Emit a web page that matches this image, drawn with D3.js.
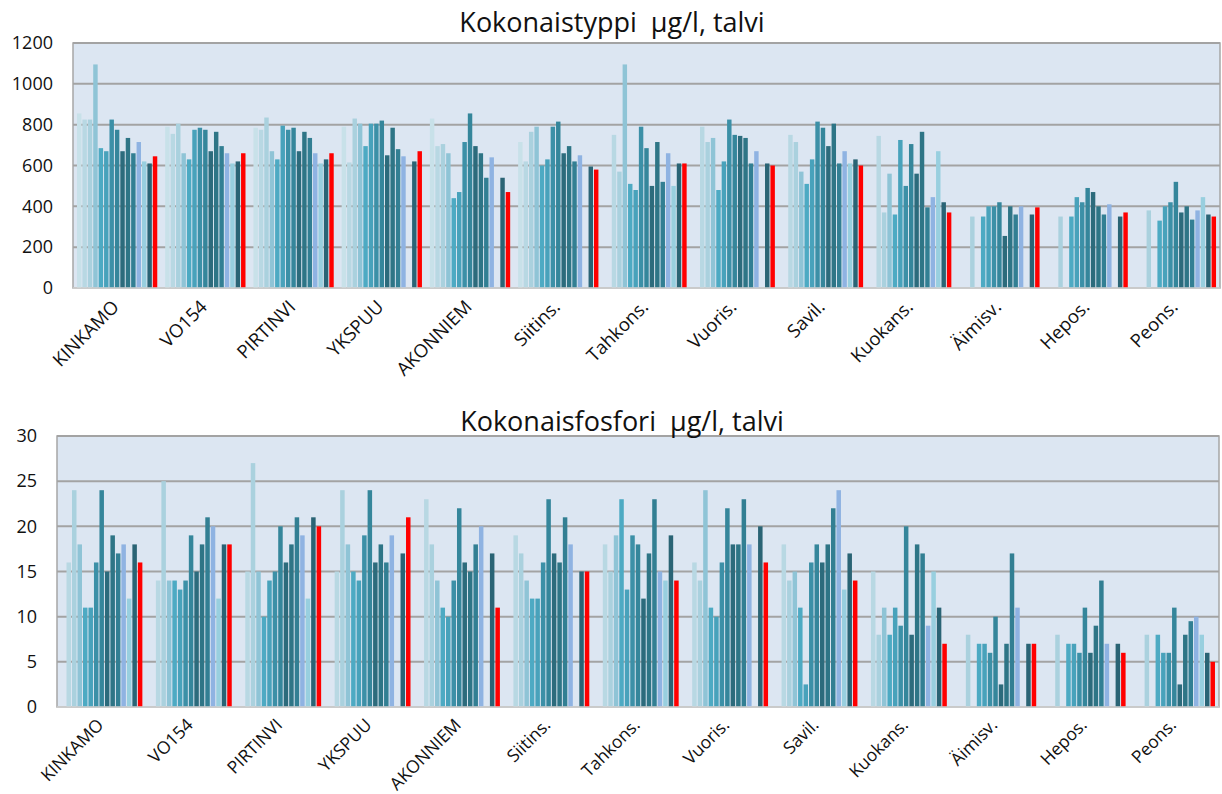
<!DOCTYPE html>
<html>
<head>
<meta charset="utf-8">
<script src="https://cdn.jsdelivr.net/npm/d3@7"></script>
<style>
  body { margin: 0; background: #fff; }
  text { font-family: "Open Sans", sans-serif; fill: #111; }
</style>
</head>
<body>
<div id="chart-container"></div>
<script>
const categories = ['KINKAMO', 'VO154', 'PIRTINVI', 'YKSPUU', 'AKONNIEM', 'Siitins.', 'Tahkons.',
  'Vuoris.', 'Savil.', 'Kuokans.', 'Äimisv.', 'Hepos.', 'Peons.'];

// 15 series per site (oldest -> newest, last one red)
const seriesColors = ['#c8e1e9', '#b8d8e3', '#aad1de', '#8fc4d6', '#4daac3', '#48a2bb', '#3c90a7',
  '#35869b', '#2c6b7c', '#2e7586', '#327f93', '#8fb3e2', '#98cfdf', '#2a6475', '#ff0000'];

// Kokonaistyppi, one row per site
const typpi = [
  [855, 825, 825, 1095, 685, 670, 825, 775, 670, 735, 660, 715, 620, 610, 645],
  [790, 755, 805, 660, 630, 775, 785, 775, 670, 765, 695, 660, 610, 620, 660],
  [785, 775, 835, 670, 630, 795, 775, 785, 670, 765, 735, 660, 610, 630, 660],
  [790, 615, 830, 805, 695, 805, 805, 820, 650, 785, 680, 645, null, 620, 670],
  [830, 695, 705, 660, 440, 470, 715, 855, 695, 660, 540, 640, null, 540, 470],
  [715, 620, 765, 790, 600, 630, 790, 815, 660, 695, 620, 650, null, 595, 580],
  [null, 750, 570, 1095, 510, 480, 790, 685, 500, 715, 520, 660, 500, 610, 610],
  [null, 790, 715, 735, 480, 620, 825, 750, 745, 735, 610, 670, null, 610, 600],
  [null, 750, 715, 570, 510, 630, 815, 785, 695, 805, 610, 670, 610, 630, 600],
  [null, 745, 370, 560, 360, 725, 500, 705, 560, 765, 395, 445, 670, 420, 370],
  [null, null, 350, null, 350, 400, 400, 420, 255, 400, 360, 400, null, 360, 395],
  [null, null, 350, null, 350, 445, 420, 490, 470, 400, 360, 410, null, 350, 370],
  [null, null, 380, null, 330, 400, 420, 520, 370, 400, 335, 380, 445, 360, 350]
];

// Kokonaisfosfori, one row per site
const fosfori = [
  [null, 16, 24, 18, 11, 11, 16, 24, 15, 19, 17, 18, 12, 18, 16],
  [null, 14, 25, 14, 14, 13, 14, 19, 15, 18, 21, 20, 12, 18, 18],
  [null, 15, 27, 15, 10, 14, 15, 20, 16, 18, 21, 19, 12, 21, 20],
  [null, 15, 24, 18, 15, 14, 19, 24, 16, 18, 16, 19, null, 17, 21],
  [null, 23, 18, 14, 11, 10, 14, 22, 16, 15, 18, 20, null, 17, 11],
  [null, 19, 17, 14, 12, 12, 16, 23, 17, 16, 21, 18, null, 15, 15],
  [null, 18, 15, 19, 23, 13, 19, 18, 12, 17, 23, 15, 14, 19, 14],
  [null, 16, 14, 24, 11, 10, 16, 22, 18, 18, 23, 18, null, 20, 16],
  [null, 18, 14, 15, 11, 2.5, 16, 18, 16, 18, 22, 24, 13, 17, 14],
  [null, 15, 8, 11, 8, 11, 9, 20, 8, 18, 17, 9, 15, 11, 7],
  [null, null, 8, null, 7, 7, 6, 10, 2.5, 7, 17, 11, null, 7, 7],
  [null, null, 8, null, 7, 7, 6, 11, 6, 9, 14, 7, null, 7, 6],
  [null, null, 8, null, 8, 6, 6, 11, 2.5, 8, 9.5, 10, 8, 6, 5]
];

const typpiTicks = [0, 200, 400, 600, 800, 1000, 1200];
const fosforiTicks = [0, 5, 10, 15, 20, 25, 30];

const width = 1222;
const height = 794;

const svg = d3.select('#chart-container')
  .append('svg')
  .attr('width', width)
  .attr('height', height)
  .style('background-color', 'white');

function drawPanel(opts) {
  const { box, data, ticks, title, titleX, titleY } = opts;

  const x0 = d3.scaleBand()
    .domain(categories)
    .range([box.left, box.right])
    .paddingInner(0.09)
    .paddingOuter(0.045);

  const x1 = d3.scaleBand()
    .domain(d3.range(seriesColors.length))
    .range([0, x0.bandwidth()])
    .paddingInner(0.18);

  const y = d3.scaleLinear()
    .domain([0, ticks[ticks.length - 1]])
    .range([box.bottom, box.top]);

  const g = svg.append('g');

  // plot area
  g.append('rect')
    .attr('x', box.left)
    .attr('y', box.top)
    .attr('width', box.right - box.left)
    .attr('height', box.bottom - box.top)
    .attr('fill', '#dce6f2')
    .attr('stroke', '#a6a6a6')
    .attr('stroke-width', 1.5);

  // gridlines
  g.selectAll('.grid')
    .data(ticks.slice(1))
    .enter().append('line')
    .attr('x1', box.left)
    .attr('x2', box.right)
    .attr('y1', d => y(d))
    .attr('y2', d => y(d))
    .attr('stroke', '#a3a3a3')
    .attr('stroke-width', 2);

  // y axis labels
  const yAxis = d3.axisLeft(y)
    .tickValues(ticks)
    .tickFormat(d3.format('d'))
    .tickSize(0)
    .tickPadding(20);
  const gy = g.append('g')
    .attr('transform', `translate(${box.left}, 0)`)
    .call(yAxis);
  gy.select('.domain').remove();
  gy.selectAll('text')
    .style('font-size', '18px')
    .style('font-family', '"Open Sans", sans-serif')
    .attr('fill', '#111');

  // bars
  const groups = g.selectAll('.site')
    .data(data)
    .enter().append('g')
    .attr('class', 'site')
    .attr('transform', (d, i) => `translate(${x0(categories[i])}, 0)`);

  groups.selectAll('rect')
    .data(d => d.map((v, s) => ({ v, s })).filter(d => d.v !== null))
    .enter().append('rect')
    .attr('x', d => x1(d.s))
    .attr('y', d => y(d.v))
    .attr('width', x1.bandwidth())
    .attr('height', d => y(0) - y(d.v))
    .attr('fill', d => seriesColors[d.s]);

  // x axis line
  g.append('line')
    .attr('x1', box.left)
    .attr('x2', box.right)
    .attr('y1', box.bottom)
    .attr('y2', box.bottom)
    .attr('stroke', '#d0d0d0')
    .attr('stroke-width', 1.5);

  // category labels
  g.selectAll('.cat')
    .data(categories)
    .enter().append('text')
    .attr('class', 'cat')
    .attr('text-anchor', 'end')
    .attr('transform', d => `translate(${x0(d) + x0.bandwidth() / 2 + 3}, ${box.bottom + opts.labelDy}) rotate(-45)`)
    .style('font-size', opts.labelSize)
    .text(d => d);

  // title
  svg.append('text')
    .attr('x', titleX)
    .attr('y', titleY)
    .attr('text-anchor', 'middle')
    .style('font-size', '27px')
    .style('white-space', 'pre')
    .text(title);
}

drawPanel({
  box: { left: 73, right: 1220, top: 43, bottom: 288 },
  data: typpi,
  ticks: typpiTicks,
  title: 'Kokonaistyppi  µg/l, talvi',
  titleX: 612,
  titleY: 32,
  labelDy: 20,
  labelSize: '18.5px'
});

drawPanel({
  box: { left: 57, right: 1219, top: 436, bottom: 707 },
  data: fosfori,
  ticks: fosforiTicks,
  title: 'Kokonaisfosfori  µg/l, talvi',
  titleX: 622,
  titleY: 431,
  labelDy: 19,
  labelSize: '17.5px'
});
</script>
</body>
</html>
